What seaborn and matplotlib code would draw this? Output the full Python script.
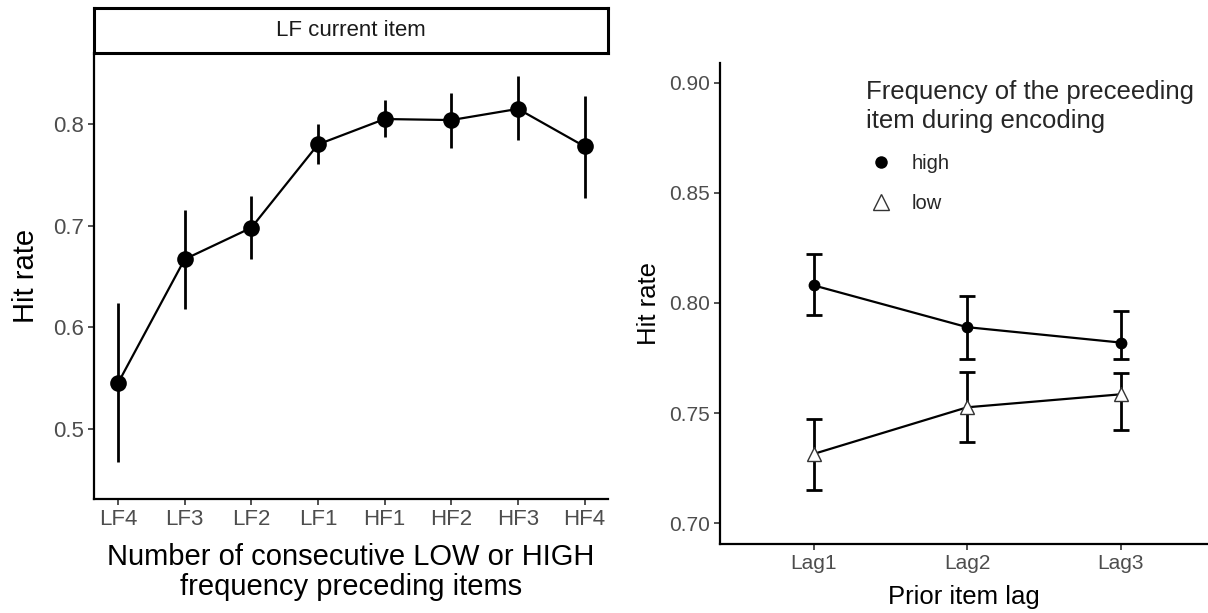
import numpy as np
import pandas as pd
import matplotlib
matplotlib.use("Agg")
import matplotlib.pyplot as plt
from matplotlib.lines import Line2D
import seaborn as sns

# ---------------- data ----------------
left_cats = ["LF4", "LF3", "LF2", "LF1", "HF1", "HF2", "HF3", "HF4"]
left_hit = [0.545, 0.667, 0.698, 0.780, 0.805, 0.804, 0.815, 0.778]
left_lo = [0.467, 0.618, 0.667, 0.761, 0.787, 0.776, 0.784, 0.727]
left_hi = [0.624, 0.715, 0.729, 0.800, 0.824, 0.831, 0.847, 0.828]

lags = ["Lag1", "Lag2", "Lag3"]
high_hit = [0.808, 0.789, 0.782]
high_lo = [0.7945, 0.7745, 0.7745]
high_hi = [0.8223, 0.8032, 0.7962]
low_hit = [0.7314, 0.7526, 0.7585]
low_lo = [0.7149, 0.7367, 0.7423]
low_hi = [0.7473, 0.7685, 0.7682]

left_yticks = [0.5, 0.6, 0.7, 0.8]
right_yticks = [0.70, 0.75, 0.80, 0.85, 0.90]

# ---------------- style ----------------
sns.set_theme(style="white")
plt.rcParams["font.family"] = ["Liberation Sans", "DejaVu Sans"]
TICK_C = "#4D4D4D"

W, H = 1208, 613
fig = plt.figure(figsize=(W / 100, H / 100), dpi=100)

def fax(x0, y0, x1, y1):
    return fig.add_axes([x0 / W, 1 - y1 / H, (x1 - x0) / W, (y1 - y0) / H])

# ---------------- left panel ----------------
axL = fax(94, 53, 608, 499)
dfL = pd.DataFrame({"cond": left_cats, "hit": left_hit})
xs = np.arange(len(left_cats))
axL.errorbar(xs, left_hit,
             yerr=[np.array(left_hit) - np.array(left_lo), np.array(left_hi) - np.array(left_hit)],
             fmt="none", ecolor="black", elinewidth=2.0, capsize=0, zorder=2)
sns.lineplot(data=dfL, x="cond", y="hit", ax=axL, color="black", linewidth=1.6,
             marker="o", markersize=12, markeredgewidth=0, sort=False, zorder=3)
axL.set_xlim(-0.36, len(left_cats) - 1 + 0.35)
axL.set_ylim(0.431, 0.870)
axL.set_yticks(left_yticks)
axL.set_yticklabels([f"{v:.1f}" for v in left_yticks])
axL.set_xticks(xs)
axL.set_xticklabels(left_cats)
axL.set_ylabel("Hit rate", fontsize=21, color="black")
axL.set_xlabel("Number of consecutive LOW or HIGH\nfrequency preceding items",
               fontsize=21, color="black", linespacing=1.12)
axL.yaxis.set_label_coords(-0.105, 0.5)
axL.xaxis.set_label_coords(0.5, -0.098)

# strip
axS = fax(94, 8, 608, 53)
axS.set_xticks([]); axS.set_yticks([])
for s in axS.spines.values():
    s.set_visible(True); s.set_color("black"); s.set_linewidth(2.2)
axS.text(0.5, 0.5, "LF current item", ha="center", va="center", fontsize=16,
         color="#1A1A1A", transform=axS.transAxes)

# ---------------- right panel ----------------
axR = fax(720, 63, 1208, 544)
xr = np.arange(len(lags))
axR.errorbar(xr, high_hit,
             yerr=[np.array(high_hit) - np.array(high_lo), np.array(high_hi) - np.array(high_hit)],
             fmt="none", ecolor="black", elinewidth=2.0, capsize=6, capthick=2.0, zorder=2)
axR.errorbar(xr, low_hit,
             yerr=[np.array(low_hit) - np.array(low_lo), np.array(low_hi) - np.array(low_hit)],
             fmt="none", ecolor="black", elinewidth=2.0, capsize=6, capthick=2.0, zorder=2)
sns.lineplot(x=lags, y=high_hit, ax=axR, color="black", linewidth=1.6, marker="o",
             markersize=8.5, markeredgewidth=0, sort=False, zorder=3)
sns.lineplot(x=lags, y=low_hit, ax=axR, color="black", linewidth=1.6, marker="^",
             markersize=10.5, markerfacecolor="white", markeredgecolor="#333333",
             markeredgewidth=1.0, sort=False, zorder=3)
axR.set_xlim(-0.609, 2.568)
axR.set_ylim(0.6905, 0.909)
axR.set_yticks(right_yticks)
axR.set_yticklabels([f"{v:.2f}" for v in right_yticks])
axR.set_xticks(xr)
axR.set_xticklabels(lags)
axR.set_ylabel("Hit rate", fontsize=18.5, color="black")
axR.set_xlabel("Prior item lag", fontsize=18.5, color="black")
axR.yaxis.set_label_coords(-0.12, 0.5)
axR.xaxis.set_label_coords(0.5, -0.085)

handles = [
    Line2D([], [], linestyle="none", marker="o", color="black", markersize=9, markeredgewidth=0),
    Line2D([], [], linestyle="none", marker="^", markerfacecolor="white",
           markeredgecolor="#333333", markersize=11, markeredgewidth=1.0),
]
leg = axR.legend(handles, ["high", "low"], title="Frequency of the preceeding\nitem during encoding",
                 loc="upper left", bbox_to_anchor=(852 / W, 1 - 66 / H),
                 bbox_transform=fig.transFigure, frameon=False, fontsize=14.5,
                 title_fontsize=18.5, labelspacing=1.05, handletextpad=0.75,
                 handlelength=1.5, borderpad=0.2)
leg._legend_box.align = "left"
leg._legend_box.sep = 15
leg.get_title().set_linespacing(1.25)

for ax, fs in ((axL, 16), (axR, 15)):
    sns.despine(ax=ax)
    for side in ("left", "bottom"):
        ax.spines[side].set_color("black")
        ax.spines[side].set_linewidth(1.6)
    ax.tick_params(axis="both", which="major", direction="out", length=4.5, width=1.2,
                   color="#333333", labelcolor=TICK_C, labelsize=fs, pad=3,
                   left=True, bottom=True)
    ax.grid(False)
    ax.set_facecolor("white")

fig.savefig("out.png", dpi=100, facecolor="white")
